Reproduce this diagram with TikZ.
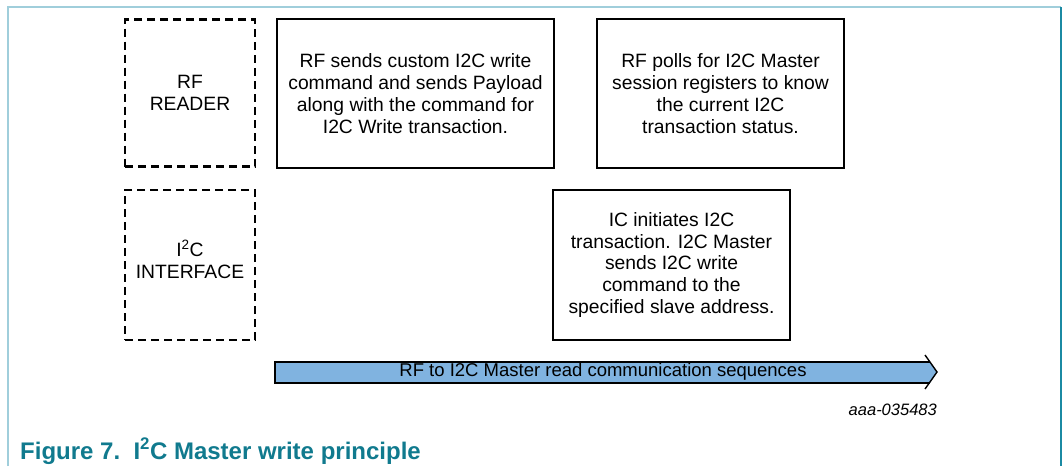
\documentclass[tikz,border=0pt]{standalone}
\usepackage{fontspec}
\setmainfont{Liberation Sans}
\usepackage{tikz}
\usetikzlibrary{positioning}
\usetikzlibrary{calc}
\usepackage{xcolor}
\definecolor{framelight}{RGB}{160,206,219}
\definecolor{framedark}{RGB}{27,138,163}
\definecolor{seqblue}{RGB}{128,179,224}
\definecolor{captionteal}{RGB}{16,122,142}

\begin{document}
\begin{tikzpicture}[x=1pt,y=-1pt,
		boxtext/.style={align=center, inner sep=0pt, font=\fontsize{19.3}{21.8}\selectfont},
		dashbox/.style={boxtext, draw, line width=2.8pt, dash pattern=on 8pt off 5pt, minimum width=130pt},
		stepbox/.style={boxtext, draw, line width=2.9pt}]
		\useasboundingbox (0,0) rectangle (1064,466);
		% frame
		\draw[framelight, line width=1.6pt] (8,466) -- (8,7) -- (1061,7);
		\draw[framedark, line width=1.6pt] (1061,7) -- (1061,466);
		
		\draw (190,93) node[dashbox, minimum height=147pt] (reader) {RF\\READER}
		(190,265) node[dashbox, minimum height=150pt, text depth=12pt] (iface) {I\textsuperscript{2}C\\INTERFACE};
		
		\draw (415.5,93.5) node[stepbox, minimum width=277pt, minimum height=149pt] (send) {RF sends custom I2C write\\command and sends Payload\\along with the command for\\I2C Write transaction.}
		(720.5,93.5) node[stepbox, minimum width=247pt, minimum height=149pt] (poll) {RF polls for I2C Master\\session registers to know\\the current I2C\\transaction status.}
		(671.5,265) node[stepbox, minimum width=237pt, minimum height=150pt] (init) {IC initiates I2C\\transaction. I2C Master\\sends I2C write\\command to the\\specified slave address.};
		
		% sequence arrow
		\coordinate (seqstart) at (275,372);
		\coordinate (seqtip) at (937,372);
		\fill[seqblue] (275,362) -- (930,362) -- (seqtip) -- (930,383) -- (275,383) -- cycle;
		\draw[line width=1.4pt] (930,362) -- (275,362) -- (275,383) -- (930,383);
		\draw[line width=1.4pt] (925,355) -- (seqtip) -- (925,389);
		\node[boxtext, font=\fontsize{18.5}{20.5}\selectfont] (seq) at (603,372) {RF to I2C Master read communication sequences};
		
		\node[anchor=base east, inner sep=0pt, font=\itshape\fontsize{16.5}{18}\selectfont] (figid) at (937,415) {aaa-035483};
		\node[anchor=base west, inner sep=0pt, text=captionteal, font=\bfseries\fontsize{24}{28}\selectfont] (caption) at (20,459) {Figure 7.\ \ I\textsuperscript{2}C Master write principle};
	\end{tikzpicture}
\end{document}
